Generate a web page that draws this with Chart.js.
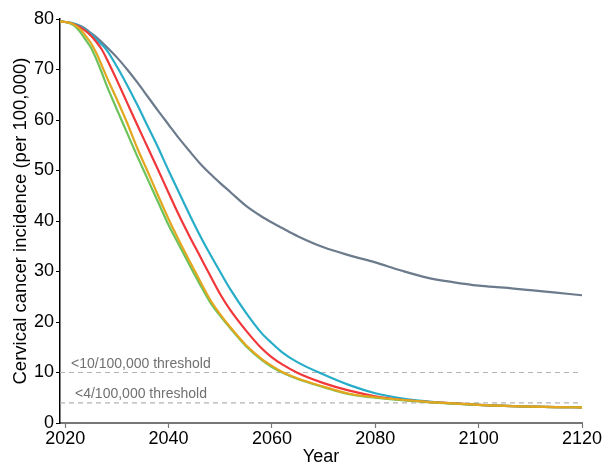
<!DOCTYPE html>
<html>
<head>
<meta charset="utf-8">
<script src="https://cdn.jsdelivr.net/npm/chart.js@4"></script>
<style>
  html, body { margin: 0; padding: 0; background: #fff; }
  #wrap { width: 605px; height: 464px; }
</style>
</head>
<body>
<div id="wrap"><canvas id="c" width="605" height="464"></canvas></div>
<script>
const years = [2019,2020,2021,2022,2023,2024,2025,2026,2027,2028,2030,2032,2034,2036,2038,2040,2042,2044,2046,2048,2050,2052,2055,2058,2060,2062,2065,2070,2075,2080,2085,2090,2095,2100,2105,2110,2115,2120];

const greySeries  = [79.5,79.4,79.2,78.95,78.6,78.0,77.2,76.4,75.5,74.5,72.4,70.0,67.4,64.6,61.8,59.1,56.4,53.9,51.5,49.4,47.5,45.7,43.0,40.9,39.7,38.6,37.0,34.8,33.2,31.8,30.2,28.8,27.9,27.2,26.8,26.3,25.8,25.3];
const cyanSeries  = [79.5,79.4,79.3,79.0,78.5,77.8,77.0,76.0,75.0,73.9,70.6,66.9,62.9,58.7,54.5,50.0,45.7,41.4,37.3,33.5,29.9,26.4,21.8,17.8,15.8,14.0,12.0,9.6,7.5,5.9,4.9,4.3,3.9,3.6,3.4,3.25,3.15,3.1];
const redSeries   = [79.5,79.4,79.2,78.8,78.3,77.6,76.7,75.5,74.1,72.2,67.9,63.4,58.9,54.5,50.1,45.6,41.2,37.1,33.2,29.3,25.5,22.3,18.3,14.8,13.0,11.6,9.9,7.9,6.4,5.3,4.6,4.2,3.9,3.6,3.4,3.25,3.15,3.1];
const goldSeries  = [79.5,79.4,79.2,78.7,77.9,76.6,75.2,73.3,71.0,68.6,64.1,59.4,54.3,49.7,45.0,40.4,36.2,32.2,28.3,24.5,21.5,18.9,15.4,12.7,11.3,10.1,8.8,7.2,5.8,5.1,4.6,4.2,3.9,3.6,3.4,3.25,3.15,3.1];
const greenSeries = [79.5,79.4,79.1,78.5,77.3,75.8,74.3,72.1,69.6,66.9,62.1,57.4,52.7,48.2,43.7,39.2,35.3,31.4,27.6,24.0,21.2,18.7,15.2,12.5,11.1,10.0,8.7,7.1,5.7,5.0,4.5,4.15,3.85,3.6,3.4,3.25,3.15,3.1];

const thresholdValues = [10, 4];
const thresholdLabels = ['<10/100,000 threshold', '<4/100,000 threshold'];
const xTickValues = [2020, 2040, 2060, 2080, 2100, 2120];
const xRange = [2019, 2120];
const yRange = [0, 80];

const FONT = '"Liberation Sans", Arial, Helvetica, sans-serif';

function pts(vals) { return years.map((y, i) => ({ x: y, y: vals[i] })); }

const lineStyle = (color) => ({
  borderColor: color, backgroundColor: color, borderWidth: 2.2,
  pointRadius: 0, fill: false, cubicInterpolationMode: 'monotone'
});

const datasets = [
  Object.assign({ label: 'gold',  data: pts(goldSeries)  }, lineStyle('#e2a71f')),
  Object.assign({ label: 'green', data: pts(greenSeries) }, lineStyle('#6cc35c')),
  Object.assign({ label: 'red',   data: pts(redSeries)   }, lineStyle('#f1373a')),
  Object.assign({ label: 'cyan',  data: pts(cyanSeries)  }, lineStyle('#28adc8')),
  Object.assign({ label: 'grey',  data: pts(greySeries)  }, lineStyle('#6c7b8c'))
];
thresholdValues.forEach((v, i) => {
  datasets.push({
    label: thresholdLabels[i],
    data: [{ x: xRange[0], y: v }, { x: xRange[1], y: v }],
    borderColor: '#b4b4b4', borderWidth: 1.2, borderDash: [5, 4],
    pointRadius: 0, fill: false
  });
});

const thresholdTextPlugin = {
  id: 'thresholdText',
  afterDatasetsDraw(chart) {
    const { ctx, scales } = chart;
    ctx.save();
    ctx.font = '14px ' + FONT;
    ctx.fillStyle = '#707070';
    ctx.textAlign = 'left';
    ctx.textBaseline = 'alphabetic';
    const xOff = [11, 15];
    thresholdValues.forEach((v, i) => {
      const px = scales.x.left + xOff[i];
      const py = scales.y.getPixelForValue(v) - 5;
      ctx.fillText(thresholdLabels[i], px, py);
    });
    ctx.restore();
  }
};

new Chart(document.getElementById('c'), {
  type: 'line',
  data: { datasets },
  options: {
    responsive: false,
    animation: false,
    layout: { padding: { top: 19, right: 23, left: 0, bottom: 0 } },
    plugins: { legend: { display: false }, tooltip: { enabled: false } },
    scales: {
      x: {
        type: 'linear', min: xRange[0], max: xRange[1],
        afterBuildTicks(scale) { scale.ticks = xTickValues.map(v => ({ value: v })); },
        afterFit(scale) { scale.height = 41; },
        grid: { display: true, drawOnChartArea: false, tickLength: 5, tickColor: '#777', tickWidth: 1.2 },
        border: { display: true, color: '#777', width: 2 },
        ticks: { font: { size: 18, family: FONT }, color: '#000', padding: 0, maxRotation: 0, autoSkip: false,
                 callback: v => String(v) },
        title: { display: true, text: 'Year', font: { size: 18, family: FONT }, color: '#000', padding: { top: 0, bottom: -4 } }
      },
      y: {
        min: yRange[0], max: yRange[1],
        afterFit(scale) { scale.width = 60; },
        grid: { display: true, drawOnChartArea: false, tickLength: 4, tickColor: '#000', tickWidth: 1 },
        border: { display: true, color: '#000', width: 1.5 },
        ticks: { stepSize: 10, font: { size: 18, family: FONT }, color: '#000', padding: 2 },
        title: { display: true, text: 'Cervical cancer incidence (per 100,000)', font: { size: 18.5, family: FONT }, color: '#000', padding: { top: 10, bottom: 0 } }
      }
    }
  },
  plugins: [thresholdTextPlugin]
});
</script>
</body>
</html>
